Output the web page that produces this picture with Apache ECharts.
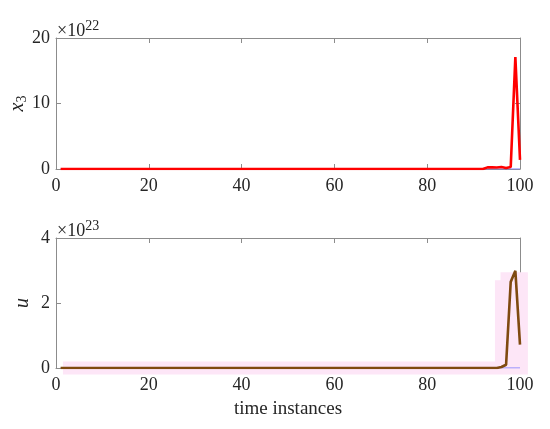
<!DOCTYPE html>
<html>
<head>
<meta charset="utf-8">
<script src="https://cdn.jsdelivr.net/npm/echarts@6/dist/echarts.min.js"></script>
<style>
  html, body { margin: 0; padding: 0; background: #fff; }
  #chart { width: 550px; height: 429px; }
</style>
</head>
<body>
<div id="chart"></div>
<script>
// x3 (units of 1e22), one value per time instance 1..100
const x3Values = [
  0, 0, 0, 0, 0, 0, 0, 0, 0, 0,
  0, 0, 0, 0, 0, 0, 0, 0, 0, 0,
  0, 0, 0, 0, 0, 0, 0, 0, 0, 0,
  0, 0, 0, 0, 0, 0, 0, 0, 0, 0,
  0, 0, 0, 0, 0, 0, 0, 0, 0, 0,
  0, 0, 0, 0, 0, 0, 0, 0, 0, 0,
  0, 0, 0, 0, 0, 0, 0, 0, 0, 0,
  0, 0, 0, 0, 0, 0, 0, 0, 0, 0,
  0, 0, 0, 0, 0, 0, 0, 0, 0, 0,
  0, 0, 0.25, 0.25, 0.22, 0.3, 0.15, 0.3, 17.1, 1.4
];
// u (units of 1e23)
const uValues = [
  0, 0, 0, 0, 0, 0, 0, 0, 0, 0,
  0, 0, 0, 0, 0, 0, 0, 0, 0, 0,
  0, 0, 0, 0, 0, 0, 0, 0, 0, 0,
  0, 0, 0, 0, 0, 0, 0, 0, 0, 0,
  0, 0, 0, 0, 0, 0, 0, 0, 0, 0,
  0, 0, 0, 0, 0, 0, 0, 0, 0, 0,
  0, 0, 0, 0, 0, 0, 0, 0, 0, 0,
  0, 0, 0, 0, 0, 0, 0, 0, 0, 0,
  0, 0, 0, 0, 0, 0, 0, 0, 0, 0,
  0, 0, 0, 0, 0, 0.03, 0.1, 2.65, 2.99, 0.72
];
// reference line (zero) drawn under both curves
const refValues = uValues.map(() => 0);
// pink band around u
const bandX = [1.5, 94.6, 94.6, 95.8, 95.8, 101.7];
const bandLow = [-0.2, -0.2, -0.2, -0.2, -0.2, -0.2];
const bandHigh = [0.2, 0.2, 2.7, 2.7, 2.95, 2.95];

const pairs = arr => arr.map((v, i) => [i + 1, v]);

const font = 'Liberation Serif';
const axisGray = '#8c8c8c';
const labelColor = '#262626';

function xAx(gi, bottom) {
  return {
    type: 'value', gridIndex: gi, min: 0, max: 100, interval: 20,
    position: bottom ? 'bottom' : 'top',
    axisLine: { show: true, onZero: false, lineStyle: { color: axisGray, width: 1 } },
    axisTick: { show: true, inside: true, length: 5, lineStyle: { color: axisGray } },
    axisLabel: { show: bottom, color: labelColor, fontFamily: font, fontSize: 18, margin: 8 },
    splitLine: { show: false }
  };
}
function yAx(gi, left, max, interval) {
  return {
    type: 'value', gridIndex: gi, min: 0, max: max, interval: interval,
    position: left ? 'left' : 'right',
    axisLine: { show: true, onZero: false, lineStyle: { color: axisGray, width: 1 } },
    axisTick: { show: true, inside: true, length: 5, lineStyle: { color: axisGray } },
    axisLabel: { show: left, color: labelColor, fontFamily: font, fontSize: 18, margin: 6 },
    splitLine: { show: false }
  };
}

const xAxes = [xAx(0, true), xAx(0, false), xAx(1, true), xAx(1, false)];
xAxes[2].name = 'time instances';
xAxes[2].nameLocation = 'middle';
xAxes[2].nameGap = 32;
xAxes[2].nameTextStyle = { color: labelColor, fontFamily: font, fontSize: 19 };

const yAxes = [yAx(0, true, 20, 10), yAx(0, false, 20, 10), yAx(1, true, 4, 2), yAx(1, false, 4, 2)];
yAxes[0].name = '{i|x}{s|3}';
yAxes[2].name = '{i|u}';
[0, 2].forEach(k => {
  yAxes[k].nameLocation = 'middle';
  yAxes[k].nameRotate = 90;
  yAxes[k].nameMoveOverlap = false;
  yAxes[k].nameGap = k === 0 ? 27 : 23;
  yAxes[k].nameTextStyle = {
    color: labelColor,
    rich: {
      i: { fontFamily: font, fontStyle: 'italic', fontSize: 20, color: labelColor },
      s: { fontFamily: font, fontSize: 14, color: labelColor, padding: [8, 0, 0, 0] }
    }
  };
});

const titleStyle = {
  fontFamily: font, fontSize: 18, fontWeight: 'normal', color: labelColor,
  rich: { s: { fontFamily: font, fontSize: 14, color: labelColor, padding: [0, 0, 10, 0] } }
};

const chart = echarts.init(document.getElementById('chart'));
chart.setOption({
  backgroundColor: '#fff',
  animation: false,
  textStyle: { fontFamily: font },
  grid: [
    { left: 56, right: 30, top: 38, height: 131, containLabel: false, outerBoundsMode: 'none' },
    { left: 56, right: 30, top: 238, height: 130, containLabel: false, outerBoundsMode: 'none' }
  ],
  xAxis: xAxes,
  yAxis: yAxes,
  title: [
    { text: '×10{s|22}', left: 52, top: 14, textStyle: titleStyle },
    { text: '×10{s|23}', left: 52, top: 214, textStyle: titleStyle }
  ],
  series: [
    {
      type: 'custom', xAxisIndex: 2, yAxisIndex: 2, silent: true, clip: false, z: 1,
      data: [[0, 0]],
      renderItem: (params, api) => {
        const top = bandX.map((x, i) => api.coord([x, bandHigh[i]]));
        const bot = bandX.map((x, i) => api.coord([x, bandLow[i]])).reverse();
        return {
          type: 'polygon',
          shape: { points: top.concat(bot) },
          style: { fill: '#fde6f7' }
        };
      }
    },
    {
      type: 'line', xAxisIndex: 0, yAxisIndex: 0, data: pairs(refValues),
      symbol: 'none', lineStyle: { color: '#7b7bff', width: 1.2 }, z: 2
    },
    {
      type: 'line', xAxisIndex: 0, yAxisIndex: 0, data: pairs(x3Values),
      symbol: 'none', lineStyle: { color: '#ff0000', width: 2.6 }, z: 3
    },
    {
      type: 'line', xAxisIndex: 2, yAxisIndex: 2, data: pairs(refValues),
      symbol: 'none', lineStyle: { color: '#7b7bff', width: 1.2 }, z: 2
    },
    {
      type: 'line', xAxisIndex: 2, yAxisIndex: 2, data: pairs(uValues),
      symbol: 'none', lineStyle: { color: '#7f4a10', width: 2.6 }, z: 3
    }
  ]
});
</script>
</body>
</html>
